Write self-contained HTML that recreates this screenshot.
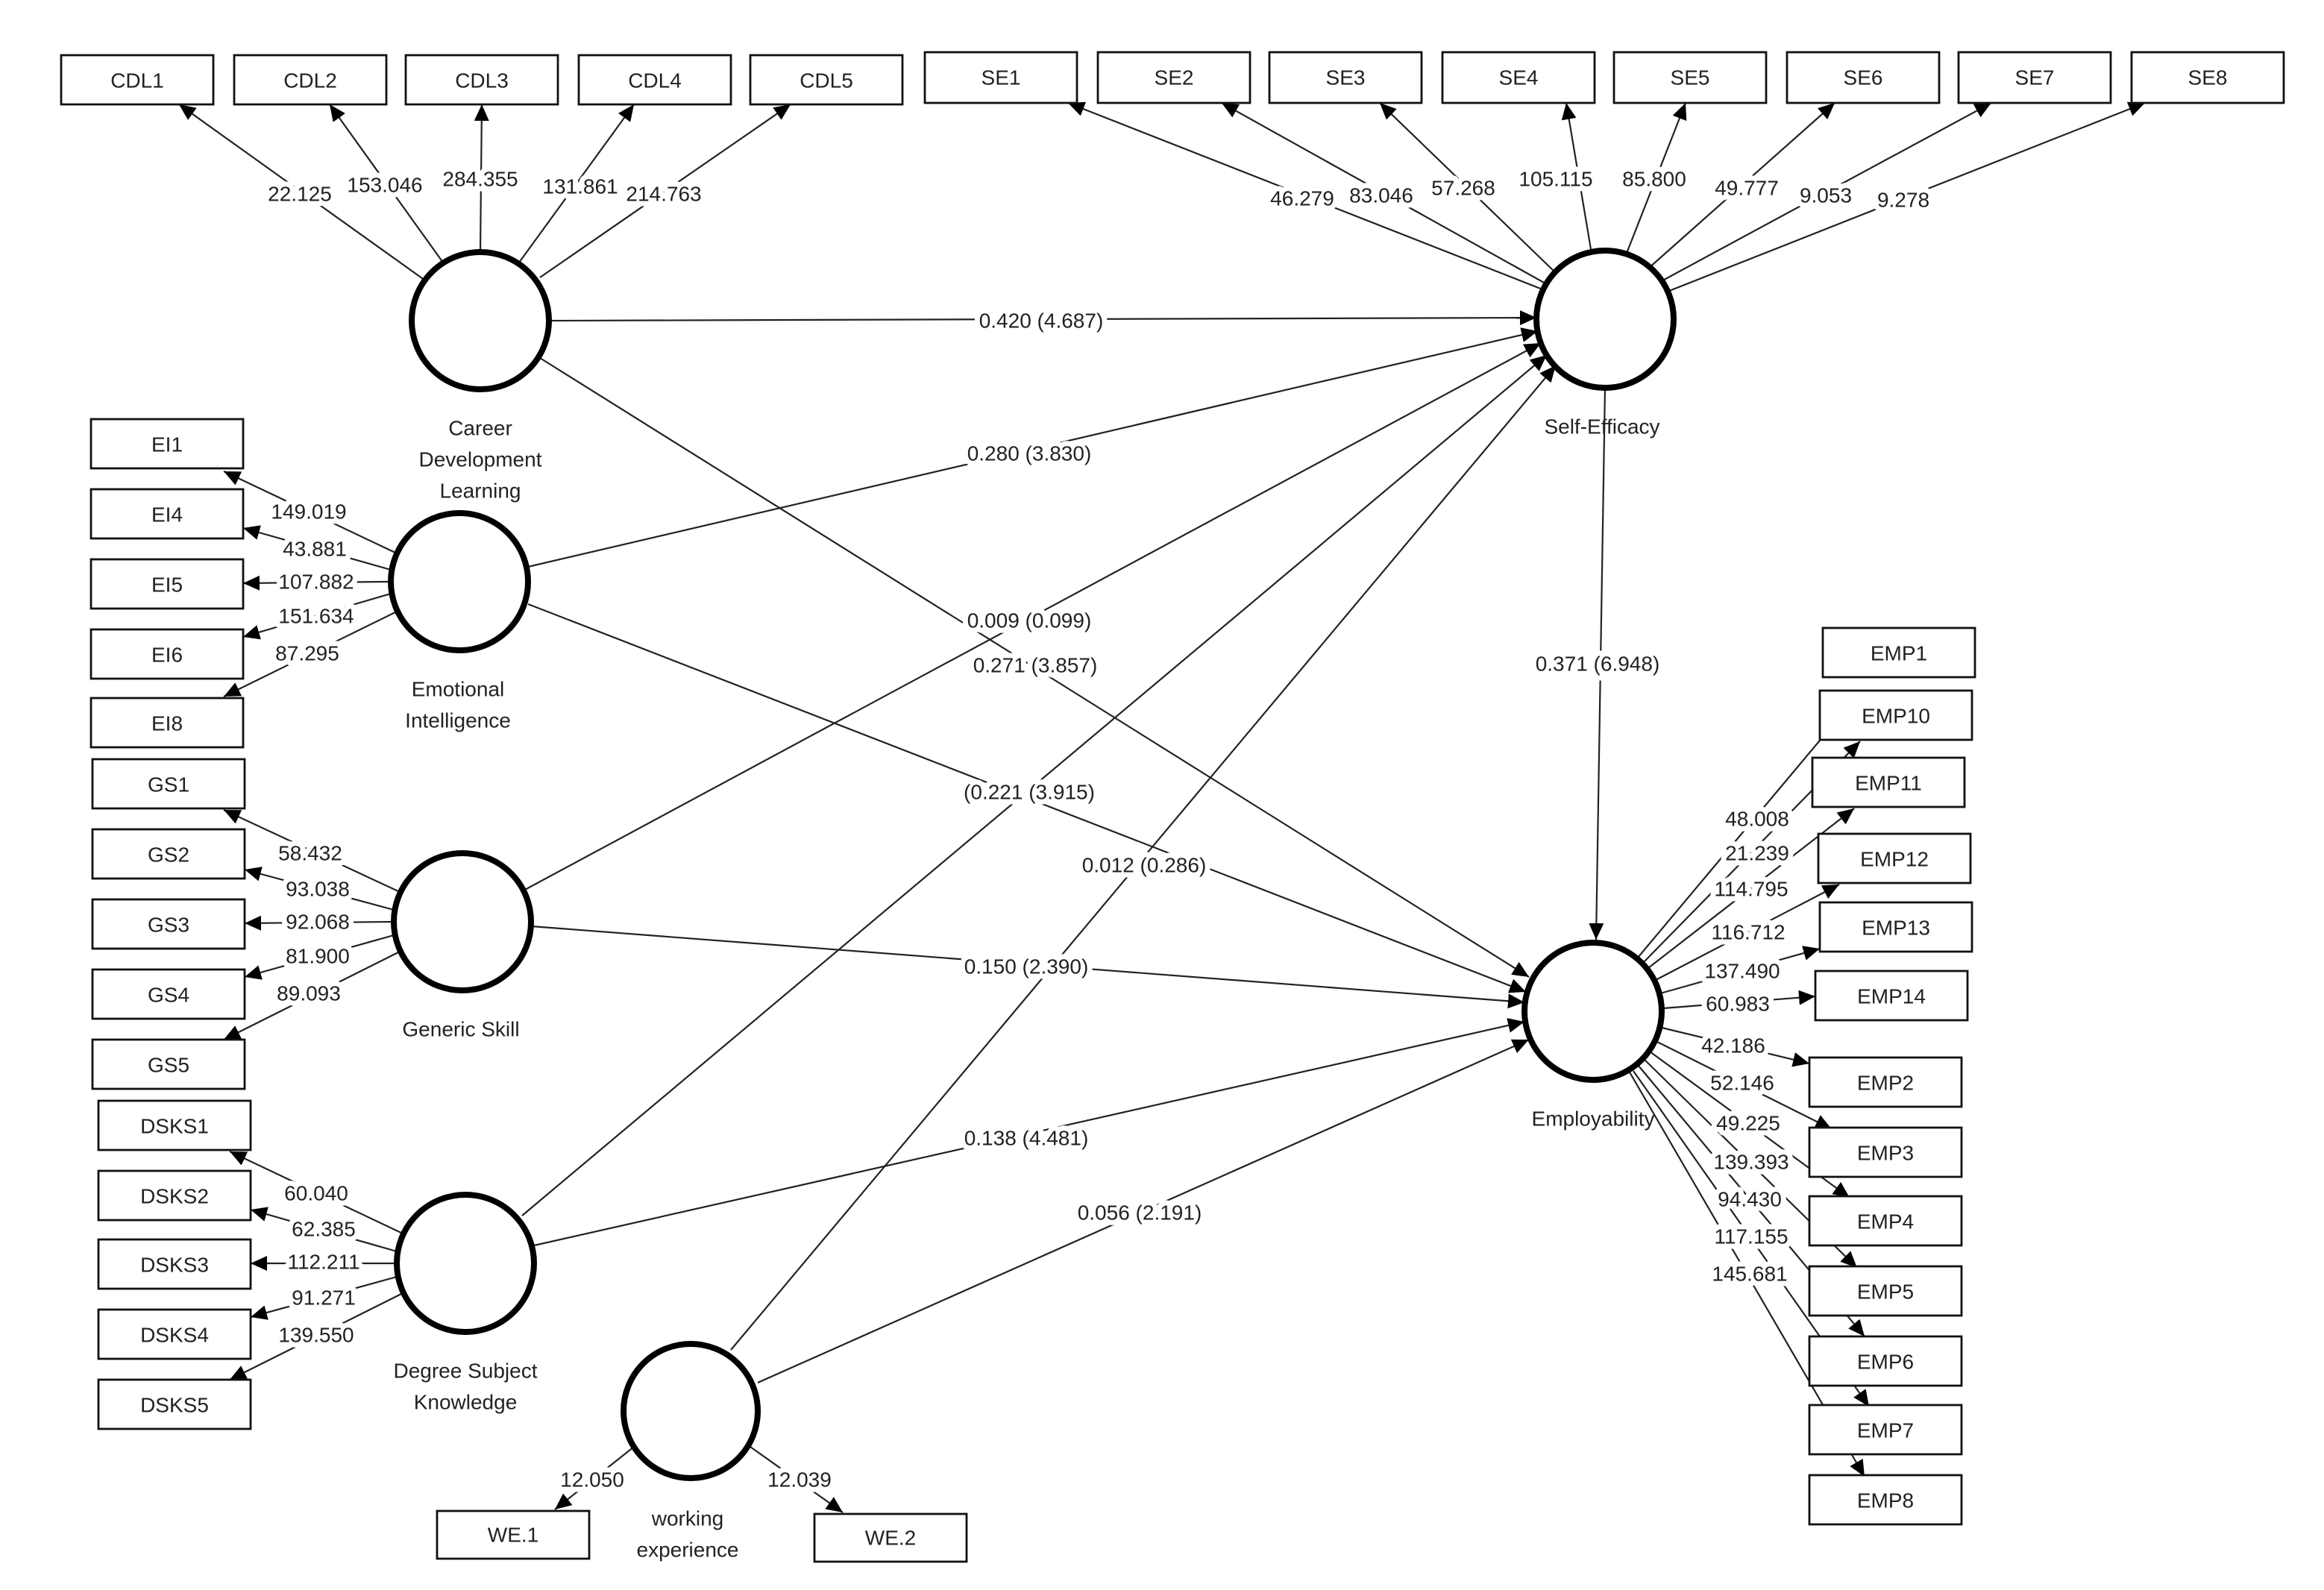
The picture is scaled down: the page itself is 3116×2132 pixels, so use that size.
<!DOCTYPE html>
<html><head><meta charset="utf-8"><style>
html,body{margin:0;padding:0;background:#fff;}
svg{display:block;}
text{font-family:"Liberation Sans",sans-serif;font-size:14px;fill:#222;text-anchor:middle;dominant-baseline:central;}
.l{stroke:#fff;stroke-width:7px;stroke-linejoin:round;paint-order:stroke fill;}
line{stroke:#222;stroke-width:1.1;}
rect{fill:#fff;stroke:#111;stroke-width:1.4;}
circle{fill:#fff;stroke:#000;stroke-width:4;}
</style></head><body>
<svg width="3116" height="2132" viewBox="0 0 1558 1066" xmlns="http://www.w3.org/2000/svg">
<defs><marker id="a" markerUnits="userSpaceOnUse" markerWidth="11" markerHeight="10" refX="11" refY="5" orient="auto"><path d="M0,0 L11,5 L0,10 z" fill="#000"/></marker></defs>
<g marker-end="url(#a)">
<line x1="285" y1="188" x2="120" y2="70"/>
<line x1="297" y1="176" x2="221" y2="70"/>
<line x1="322" y1="169" x2="323" y2="70"/>
<line x1="348" y1="176" x2="425" y2="70"/>
<line x1="362" y1="186" x2="530" y2="70"/>
<line x1="1034" y1="194" x2="716" y2="69"/>
<line x1="1036" y1="190" x2="819" y2="69"/>
<line x1="1042" y1="182" x2="925" y2="69"/>
<line x1="1067" y1="170" x2="1050" y2="69"/>
<line x1="1090" y1="171" x2="1130" y2="69"/>
<line x1="1105" y1="180" x2="1230" y2="69"/>
<line x1="1111" y1="190" x2="1335" y2="69"/>
<line x1="1114" y1="197" x2="1438" y2="69"/>
<line x1="266" y1="371" x2="150" y2="316"/>
<line x1="262" y1="382" x2="163" y2="354"/>
<line x1="262" y1="390" x2="163" y2="391"/>
<line x1="262" y1="398" x2="163" y2="427"/>
<line x1="266" y1="410" x2="150" y2="467"/>
<line x1="268" y1="598" x2="150" y2="543"/>
<line x1="264" y1="610" x2="164" y2="583"/>
<line x1="264" y1="618" x2="164" y2="619"/>
<line x1="264" y1="627" x2="164" y2="655"/>
<line x1="268" y1="638" x2="150" y2="697"/>
<line x1="270" y1="827" x2="154" y2="772"/>
<line x1="266" y1="839" x2="168" y2="811"/>
<line x1="266" y1="847" x2="168" y2="847"/>
<line x1="266" y1="856" x2="168" y2="883"/>
<line x1="270" y1="867" x2="154" y2="925"/>
<line x1="425" y1="970" x2="372" y2="1012"/>
<line x1="503" y1="970" x2="565" y2="1014"/>
<line x1="368" y1="215" x2="1030" y2="213"/>
<line x1="354" y1="380" x2="1031" y2="222"/>
<line x1="351" y1="597" x2="1033" y2="230"/>
<line x1="350" y1="815" x2="1037" y2="238"/>
<line x1="490" y1="905" x2="1043" y2="245"/>
<line x1="362" y1="240" x2="1025" y2="655"/>
<line x1="354" y1="405" x2="1023" y2="665"/>
<line x1="356" y1="621" x2="1022" y2="672"/>
<line x1="358" y1="835" x2="1022" y2="685"/>
<line x1="508" y1="927" x2="1025" y2="697"/>
<line x1="1076" y1="260" x2="1070" y2="630"/>
<line x1="1098" y1="642" x2="1248" y2="463"/>
<line x1="1102" y1="645" x2="1247" y2="497"/>
<line x1="1105" y1="649" x2="1243" y2="542"/>
<line x1="1110" y1="657" x2="1233" y2="593"/>
<line x1="1113" y1="666" x2="1220" y2="636"/>
<line x1="1115" y1="676" x2="1217" y2="668"/>
<line x1="1114" y1="689" x2="1213" y2="713"/>
<line x1="1110" y1="698" x2="1228" y2="757"/>
<line x1="1106" y1="705" x2="1240" y2="803"/>
<line x1="1102" y1="710" x2="1245" y2="850"/>
<line x1="1098" y1="714" x2="1250" y2="896"/>
<line x1="1095" y1="718" x2="1253" y2="943"/>
<line x1="1092" y1="718" x2="1250" y2="990"/>
</g>
<g>
<rect x="41" y="37" width="102" height="33"/><rect x="157" y="37" width="102" height="33"/><rect x="272" y="37" width="102" height="33"/><rect x="388" y="37" width="102" height="33"/><rect x="503" y="37" width="102" height="33"/>
<rect x="620" y="35" width="102" height="34"/><rect x="736" y="35" width="102" height="34"/><rect x="851" y="35" width="102" height="34"/><rect x="967" y="35" width="102" height="34"/><rect x="1082" y="35" width="102" height="34"/><rect x="1198" y="35" width="102" height="34"/><rect x="1313" y="35" width="102" height="34"/><rect x="1429" y="35" width="102" height="34"/>
<rect x="61" y="281" width="102" height="33"/><rect x="61" y="328" width="102" height="33"/><rect x="61" y="375" width="102" height="33"/><rect x="61" y="422" width="102" height="33"/><rect x="61" y="468" width="102" height="33"/>
<rect x="62" y="509" width="102" height="33"/><rect x="62" y="556" width="102" height="33"/><rect x="62" y="603" width="102" height="33"/><rect x="62" y="650" width="102" height="33"/><rect x="62" y="697" width="102" height="33"/>
<rect x="66" y="738" width="102" height="33"/><rect x="66" y="785" width="102" height="33"/><rect x="66" y="831" width="102" height="33"/><rect x="66" y="878" width="102" height="33"/><rect x="66" y="925" width="102" height="33"/>
<rect x="293" y="1013" width="102" height="32"/><rect x="546" y="1015" width="102" height="32"/>
<rect x="1222" y="421" width="102" height="33"/><rect x="1220" y="463" width="102" height="33"/><rect x="1215" y="508" width="102" height="33"/><rect x="1219" y="559" width="102" height="33"/><rect x="1220" y="605" width="102" height="33"/><rect x="1217" y="651" width="102" height="33"/><rect x="1213" y="709" width="102" height="33"/><rect x="1213" y="756" width="102" height="33"/><rect x="1213" y="802" width="102" height="33"/><rect x="1213" y="849" width="102" height="33"/><rect x="1213" y="896" width="102" height="33"/><rect x="1213" y="942" width="102" height="33"/><rect x="1213" y="989" width="102" height="33"/>
</g>
<g>
<text x="92" y="54">CDL1</text><text x="208" y="54">CDL2</text><text x="323" y="54">CDL3</text><text x="439" y="54">CDL4</text><text x="554" y="54">CDL5</text>
<text x="671" y="52">SE1</text><text x="787" y="52">SE2</text><text x="902" y="52">SE3</text><text x="1018" y="52">SE4</text><text x="1133" y="52">SE5</text><text x="1249" y="52">SE6</text><text x="1364" y="52">SE7</text><text x="1480" y="52">SE8</text>
<text x="112" y="298">EI1</text><text x="112" y="345">EI4</text><text x="112" y="392">EI5</text><text x="112" y="439">EI6</text><text x="112" y="485">EI8</text>
<text x="113" y="526">GS1</text><text x="113" y="573">GS2</text><text x="113" y="620">GS3</text><text x="113" y="667">GS4</text><text x="113" y="714">GS5</text>
<text x="117" y="755">DSKS1</text><text x="117" y="802">DSKS2</text><text x="117" y="848">DSKS3</text><text x="117" y="895">DSKS4</text><text x="117" y="942">DSKS5</text>
<text x="344" y="1029">WE.1</text><text x="597" y="1031">WE.2</text>
<text x="1273" y="438">EMP1</text><text x="1271" y="480">EMP10</text><text x="1266" y="525">EMP11</text><text x="1270" y="576">EMP12</text><text x="1271" y="622">EMP13</text><text x="1268" y="668">EMP14</text><text x="1264" y="726">EMP2</text><text x="1264" y="773">EMP3</text><text x="1264" y="819">EMP4</text><text x="1264" y="866">EMP5</text><text x="1264" y="913">EMP6</text><text x="1264" y="959">EMP7</text><text x="1264" y="1006">EMP8</text>
</g>
<circle cx="322" cy="215" r="46"/><circle cx="308" cy="390" r="46"/><circle cx="310" cy="618" r="46"/><circle cx="312" cy="847" r="46"/><circle cx="463" cy="946" r="45"/><circle cx="1076" cy="214" r="46"/><circle cx="1068" cy="678" r="46"/>
<g>
<text x="322" y="287">Career</text><text x="322" y="308">Development</text><text x="322" y="329">Learning</text>
<text x="307" y="462">Emotional</text><text x="307" y="483">Intelligence</text>
<text x="309" y="690">Generic Skill</text>
<text x="312" y="919">Degree Subject</text><text x="312" y="940">Knowledge</text>
<text x="461" y="1018">working</text><text x="461" y="1039">experience</text>
<text x="1074" y="286">Self-Efficacy</text>
<text x="1068" y="750">Employability</text>
</g>
<g>
<text class="l" x="201" y="130">22.125</text><text class="l" x="258" y="124">153.046</text><text class="l" x="322" y="120">284.355</text><text class="l" x="389" y="125">131.861</text><text class="l" x="445" y="130">214.763</text>
<text class="l" x="873" y="133">46.279</text><text class="l" x="926" y="131">83.046</text><text class="l" x="981" y="126">57.268</text><text class="l" x="1043" y="120">105.115</text><text class="l" x="1109" y="120">85.800</text><text class="l" x="1171" y="126">49.777</text><text class="l" x="1224" y="131">9.053</text><text class="l" x="1276" y="134">9.278</text>
<text class="l" x="207" y="343">149.019</text><text class="l" x="211" y="368">43.881</text><text class="l" x="212" y="390">107.882</text><text class="l" x="212" y="413">151.634</text><text class="l" x="206" y="438">87.295</text>
<text class="l" x="208" y="572">58.432</text><text class="l" x="213" y="596">93.038</text><text class="l" x="213" y="618">92.068</text><text class="l" x="213" y="641">81.900</text><text class="l" x="207" y="666">89.093</text>
<text class="l" x="212" y="800">60.040</text><text class="l" x="217" y="824">62.385</text><text class="l" x="217" y="846">112.211</text><text class="l" x="217" y="870">91.271</text><text class="l" x="212" y="895">139.550</text>
<text class="l" x="397" y="992">12.050</text><text class="l" x="536" y="992">12.039</text>
<text class="l" x="698" y="215">0.420 (4.687)</text>
<text class="l" x="690" y="304">0.280 (3.830)</text>
<text class="l" x="690" y="416">0.009 (0.099)</text>
<text class="l" x="694" y="446">0.271 (3.857)</text>
<text class="l" x="690" y="531">(0.221 (3.915)</text>
<text class="l" x="767" y="580">0.012 (0.286)</text>
<text class="l" x="688" y="648">0.150 (2.390)</text>
<text class="l" x="688" y="763">0.138 (4.481)</text>
<text class="l" x="764" y="813">0.056 (2.191)</text>
<text class="l" x="1071" y="445">0.371 (6.948)</text>
<text class="l" x="1178" y="549">48.008</text><text class="l" x="1178" y="572">21.239</text><text class="l" x="1174" y="596">114.795</text><text class="l" x="1172" y="625">116.712</text><text class="l" x="1168" y="651">137.490</text><text class="l" x="1165" y="673">60.983</text><text class="l" x="1162" y="701">42.186</text><text class="l" x="1168" y="726">52.146</text><text class="l" x="1172" y="753">49.225</text><text class="l" x="1174" y="779">139.393</text><text class="l" x="1173" y="804">94.430</text><text class="l" x="1174" y="829">117.155</text><text class="l" x="1173" y="854">145.681</text>
</g>
</svg>
</body></html>
